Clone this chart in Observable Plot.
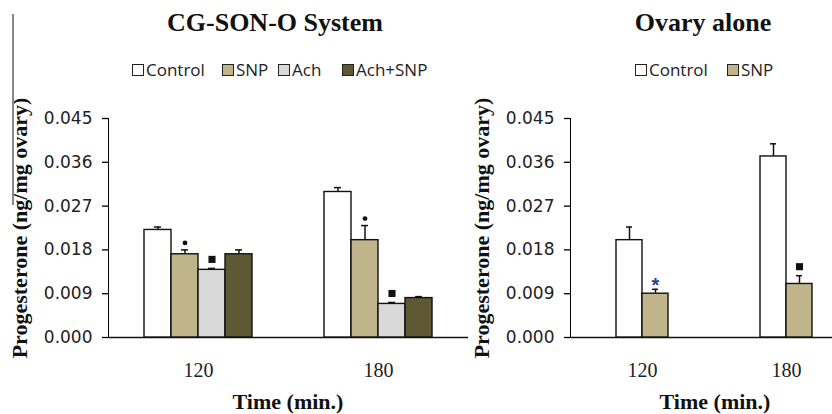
<!DOCTYPE html>
<html>
<head>
<meta charset="utf-8">
<script src="https://cdn.jsdelivr.net/npm/d3@7"></script>
<script src="https://cdn.jsdelivr.net/npm/@observablehq/plot@0.6"></script>
<style>
  body { margin: 0; background: #fff; }
  #wrap { position: relative; width: 832px; height: 414px; overflow: hidden; background: #fff; }
  .abs { position: absolute; white-space: nowrap; }
  .title { font-family: "Liberation Serif", serif; font-weight: bold; font-size: 26px; line-height: 1; color: #111; transform: translateX(-50%); }
  .xlab { font-family: "Liberation Serif", serif; font-weight: bold; font-size: 22px; line-height: 1; color: #111; transform: translateX(-50%); }
  .ylab { font-family: "Liberation Serif", serif; font-weight: bold; font-size: 22px; line-height: 1; color: #111; transform: translate(-50%, -50%) rotate(-90deg); }
  .legtext { font-family: "Open Sans", sans-serif; font-size: 17px; line-height: 1; color: #222; }
  .sw { width: 10px; height: 10px; border: 1px solid #222; }
  svg g[aria-label="y-axis tick label"] { font-family: "DejaVu Sans", sans-serif; font-size: 17px; fill: #222; }
  svg g[aria-label="fx-axis tick label"] { font-family: "Liberation Serif", serif; font-size: 20px; fill: #222; }
  svg g[aria-label="y-axis tick"], svg g[aria-label="y-axis line"] { stroke: #111; stroke-width: 1.3; }
</style>
</head>
<body>
<div id="wrap"></div>
<script>
// ---- data ----
const times = ["120", "180"];
const yTicks = [0, 0.009, 0.018, 0.027, 0.036, 0.045];

const cgGroups = ["Control", "SNP", "Ach", "Ach+SNP"];
const cgColors = ["#ffffff", "#bfb48a", "#d9d9d9", "#5e5834"];
const cg120 = [0.0221, 0.0171, 0.0139, 0.0171];
const cg180 = [0.0299, 0.0200, 0.0069, 0.0081];
const cgErr120 = [0.0006, 0.0009, 0.0003, 0.0009];
const cgErr180 = [0.0009, 0.0030, 0.0003, 0.0003];
const cgSig120 = ["", "dot", "square", ""];
const cgSig180 = ["", "dot", "square", ""];

const ovGroups = ["Control", "SNP"];
const ovColors = ["#ffffff", "#bfb48a"];
const ov120 = [0.0200, 0.0090];
const ov180 = [0.0372, 0.0110];
const ovErr120 = [0.0027, 0.0009];
const ovErr180 = [0.0026, 0.0017];
const ovSig120 = ["", "star"];
const ovSig180 = ["", "square"];

function rows(groups, means, errs, sigs) {
  const out = [];
  times.forEach((t, i) => groups.forEach((g, j) => out.push({
    time: t, group: g, value: means[i][j], err: errs[i][j],
    top: means[i][j] + errs[i][j], sig: sigs[i][j]
  })));
  return out;
}

const cgData = rows(cgGroups, [cg120, cg180], [cgErr120, cgErr180], [cgSig120, cgSig180]);
const ovData = rows(ovGroups, [ov120, ov180], [ovErr120, ovErr180], [ovSig120, ovSig180]);

function chart(groups, colors, data, {width, marginLeft, marginRight, paddingOuter}) {
  return Plot.plot({
    width, height: 414,
    marginLeft, marginRight, marginTop: 118, marginBottom: 77,
    style: {background: "transparent", maxWidth: "none", overflow: "visible"},
    fx: {domain: times, padding: 0, axis: "bottom", tickSize: 0, tickPadding: 25, label: null},
    x: {domain: groups, paddingInner: 0, paddingOuter, axis: null},
    y: {domain: [0, 0.045], ticks: yTicks, tickFormat: d3.format(".3f"), tickSize: 6, tickPadding: 10, line: true, label: null},
    color: {domain: groups, range: colors},
    marks: [
      Plot.ruleY([0], {stroke: "#111", strokeWidth: 1.3}),
      Plot.barY(data, {fx: "time", x: "group", y: "value", fill: "group", stroke: "#111", strokeWidth: 1.4}),
      Plot.ruleX(data, {fx: "time", x: "group", y1: "value", y2: "top", stroke: "#111", strokeWidth: 1.5}),
      Plot.tickY(data, {fx: "time", x: "group", y: "top", insetLeft: 10, insetRight: 10, stroke: "#111", strokeWidth: 1.5}),
      Plot.dot(data.filter(d => d.sig === "dot"), {fx: "time", x: "group", y: "top", r: 2.4, fill: "#111", stroke: null, dy: -7}),
      Plot.dot(data.filter(d => d.sig === "square"), {fx: "time", x: "group", y: "top", r: 4, symbol: "square", fill: "#111", stroke: null, dy: -9}),
      Plot.text(data.filter(d => d.sig === "star"), {fx: "time", x: "group", y: "top", text: () => "*", fill: "#2b3a9a", fontSize: 20, fontWeight: "bold", fontFamily: "Liberation Sans", dy: -4})
    ]
  });
}

const wrap = document.getElementById("wrap");
function place(el, left, top, cls, text) {
  const d = document.createElement("div");
  d.className = "abs " + (cls || "");
  d.style.left = left + "px";
  d.style.top = top + "px";
  if (text != null) d.textContent = text;
  if (el) d.appendChild(el);
  wrap.appendChild(d);
  return d;
}

const left = chart(cgGroups, cgColors, cgData, {width: 470, marginLeft: 108, marginRight: 2, paddingOuter: 1.27});
const right = chart(ovGroups, ovColors, ovData, {width: 400, marginLeft: 110, marginRight: 2, paddingOuter: 1.7});
place(left, 0, 0);
place(right, 460, 0);

// titles
place(null, 275, 10, "title", "CG-SON-O System");
place(null, 703, 10, "title", "Ovary alone");

// axis labels
place(null, 288, 391, "xlab", "Time (min.)");
place(null, 715, 391, "xlab", "Time (min.)");
place(null, 20, 228, "ylab", "Progesterone (ng/mg ovary)");
place(null, 482, 228, "ylab", "Progesterone (ng/mg ovary)");

// legends
function legend(groups, colors, xs) {
  groups.forEach((g, i) => {
    const s = place(null, xs[i], 64, "sw");
    s.style.background = colors[i];
    place(null, xs[i] + 14, 61, "legtext", g);
  });
}
legend(cgGroups, cgColors, [132, 222, 278, 342]);
legend(ovGroups, ovColors, [635, 727]);

// cropped-border artifact at top left
const art = place(null, 12, 14);
art.style.width = "2px"; art.style.height = "191px"; art.style.background = "#888";
</script>
</body>
</html>
